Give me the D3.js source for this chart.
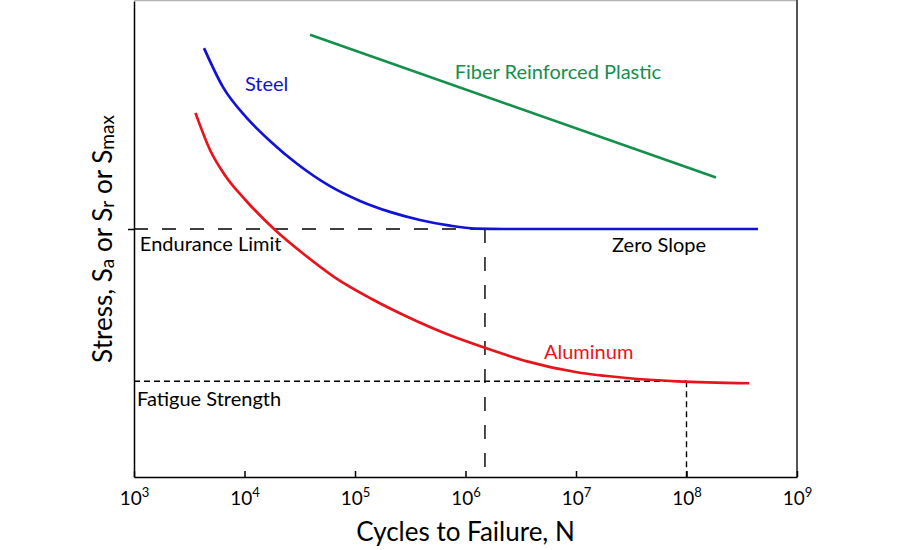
<!DOCTYPE html>
<html>
<head>
<meta charset="utf-8">
<script src="https://cdn.jsdelivr.net/npm/d3@7"></script>
<style>
  body { margin: 0; background: #fff; }
  svg { display: block; }
  svg text { font-family: Lato, "Open Sans", sans-serif; }
</style>
</head>
<body>
<svg id="chart" width="900" height="550">
  <g id="frame"></g>
  <g id="guides"></g>
  <g id="lines"></g>
  <g id="x_axis"></g>
  <g id="y_axis"></g>
  <g id="labels"></g>
</svg>
<script>
const chartWidth = 900;
const chartHeight = 550;

// x: cycles to failure (log), y: relative stress amplitude (arbitrary units)
const decades = [1e3, 1e4, 1e5, 1e6, 1e7, 1e8, 1e9];

const steelN = [4300, 6390, 10530, 17010, 29870, 59400, 111000, 207000, 387000, 724000, 1.22e6, 2.28e6, 4.44e8];
const steelS = [90.1, 81.9, 75.4, 70.6, 65.8, 61.1, 58.0, 55.7, 54.0, 52.8, 52.2, 52.1, 52.1];

const aluminumN = [3600, 4900, 6700, 10100, 18700, 34500, 66000, 139000, 321000, 650000, 1.43e6, 3.6e6, 1.02e7, 2.88e7, 8.2e7, 3.7e8];
const aluminumS = [76.5, 68.6, 63.3, 58.3, 52.0, 46.8, 41.9, 37.5, 33.3, 30.2, 27.3, 24.3, 22.0, 20.8, 20.1, 19.7];

const plasticN = [39200, 1.85e8];
const plasticS = [92.9, 62.9];

const enduranceLimit = 52.1;
const enduranceN = 1.5e6;
const fatigueStrength = 20.1;
const fatigueN = 1e8;

const colors = {steel: "#1212d6", aluminum: "#e8141c", plastic: "#14904c"};

// d3 v7 has no .attrs, small helper
d3.selection.prototype.attrs = function(obj) {
  Object.entries(obj).forEach(([k, v]) => this.attr(k, v));
  return this;
};

function make_scales(margin) {
  return {
    x: d3.scaleLog()
      .domain([1e3, 1e9])
      .range([margin.left, chartWidth - margin.right]),
    y: d3.scaleLinear()
      .domain([0, 100])
      .range([chartHeight - margin.bottom, margin.top])
  };
}

function draw_frame(scales) {
  let [x0, x1] = scales.x.range();
  let [yb, yt] = scales.y.range();
  d3.select("#frame").append("line")
    .attrs({x1: x0, x2: x1, y1: yt - 0.5, y2: yt - 0.5, stroke: "#b4b4b4", "stroke-width": 1.5});
  d3.select("#frame").append("line")
    .attrs({x1: x1, x2: x1, y1: yt - 1, y2: yb, stroke: "#555", "stroke-width": 2});
}

function draw_axes(scales, margin) {
  let x_axis = d3.axisBottom(scales.x)
    .tickValues(decades)
    .tickFormat("")
    .tickSizeInner(-6)
    .tickSizeOuter(0);
  let gx = d3.select("#x_axis")
    .attr("transform", `translate(0, ${chartHeight - margin.bottom})`)
    .call(x_axis)
    .attr("font-family", null);
  gx.selectAll("path, line").attr("stroke", "#000").attr("stroke-width", 1.5);

  let lbl = gx.selectAll(".tick").append("text")
    .attr("y", 28)
    .attr("fill", "#000")
    .attr("text-anchor", "middle")
    .style("font-size", "19px");
  lbl.append("tspan").text("10");
  lbl.append("tspan")
    .attr("dy", -8)
    .style("font-size", "13px")
    .text(d => Math.round(Math.log10(d)));

  gx.append("text")
    .attr("x", (scales.x.range()[0] + scales.x.range()[1]) / 2)
    .attr("y", 64)
    .attr("fill", "#000")
    .attr("text-anchor", "middle")
    .style("font-size", "26px")
    .text("Cycles to Failure, N");

  let y_axis = d3.axisLeft(scales.y)
    .tickValues([enduranceLimit])
    .tickFormat("")
    .tickSizeInner(6)
    .tickSizeOuter(0);
  let gy = d3.select("#y_axis")
    .attr("transform", `translate(${margin.left}, 0)`)
    .call(y_axis)
    .attr("font-family", null);
  gy.selectAll("path, line").attr("stroke", "#000").attr("stroke-width", 1.5);

  let yt = gy.append("text")
    .attr("transform", `translate(-22, ${(scales.y.range()[0] + scales.y.range()[1]) / 2}) rotate(-90)`)
    .attr("fill", "#000")
    .attr("text-anchor", "middle")
    .style("font-size", "26px");
  [["Stress, S", 0], ["a", 1], [" or S", 0], ["r", 1], [" or S", 0], ["max", 1]].forEach(([t, sub], i, arr) => {
    let prev = i > 0 ? arr[i - 1][1] : 0;
    yt.append("tspan")
      .attr("dy", sub === prev ? 0 : (sub ? 2 : -2))
      .style("font-size", sub ? "19px" : "26px")
      .text(t);
  });
}

function draw_guides(scales) {
  let g = d3.select("#guides");
  let x0 = scales.x.range()[0];
  let yb = scales.y.range()[0];
  let longDash = {stroke: "#000", "stroke-width": 1.4, "stroke-dasharray": "14,14"};
  let shortDash = {stroke: "#000", "stroke-width": 1.4, "stroke-dasharray": "6,4"};
  g.append("line")
    .attrs({x1: x0, x2: scales.x(enduranceN), y1: scales.y(enduranceLimit), y2: scales.y(enduranceLimit)})
    .attrs(longDash);
  g.append("line")
    .attrs({x1: scales.x(enduranceN), x2: scales.x(enduranceN), y1: scales.y(enduranceLimit), y2: yb})
    .attrs(longDash);
  g.append("line")
    .attrs({x1: x0, x2: scales.x(fatigueN), y1: scales.y(fatigueStrength), y2: scales.y(fatigueStrength)})
    .attrs(shortDash);
  g.append("line")
    .attrs({x1: scales.x(fatigueN), x2: scales.x(fatigueN), y1: scales.y(fatigueStrength), y2: yb})
    .attrs(shortDash);
}

function draw_lines(scales) {
  let path_generator = d3.line()
    .x(d => scales.x(d[0]))
    .y(d => scales.y(d[1]))
    .curve(d3.curveMonotoneX);

  let series = [
    {name: "steel", pts: d3.zip(steelN, steelS)},
    {name: "aluminum", pts: d3.zip(aluminumN, aluminumS)},
    {name: "plastic", pts: d3.zip(plasticN, plasticS)}
  ];

  d3.select("#lines")
    .selectAll("path")
    .data(series).enter()
    .append("path")
    .attrs({
      d: d => path_generator(d.pts),
      stroke: d => colors[d.name],
      "stroke-width": 2.7,
      fill: "none"
    });
}

function draw_labels(scales) {
  let notes = [
    {text: "Steel", n: 1.01e4, s: 81.1, fill: colors.steel},
    {text: "Fiber Reinforced Plastic", n: 8.0e5, s: 83.6, fill: colors.plastic},
    {text: "Aluminum", n: 5.13e6, s: 24.7, fill: colors.aluminum},
    {text: "Endurance Limit", n: 1.13e3, s: 47.4, fill: "#000"},
    {text: "Zero Slope", n: 2.12e7, s: 47.2, fill: "#000"},
    {text: "Fatigue Strength", n: 1.065e3, s: 14.9, fill: "#000"}
  ];
  d3.select("#labels")
    .selectAll("text")
    .data(notes).enter()
    .append("text")
    .attrs({
      x: d => scales.x(d.n),
      y: d => scales.y(d.s),
      fill: d => d.fill
    })
    .style("font-size", "20px")
    .text(d => d.text);
}

let margin = {top: 1, right: 103, bottom: 73, left: 134};
let scales = make_scales(margin);
draw_frame(scales);
draw_guides(scales);
draw_lines(scales);
draw_axes(scales, margin);
draw_labels(scales);
</script>
</body>
</html>
